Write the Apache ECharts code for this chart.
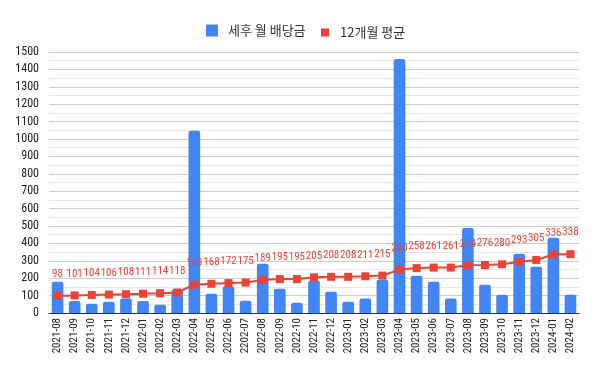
<!DOCTYPE html>
<html><head><meta charset="utf-8">
<script src="https://cdn.jsdelivr.net/npm/echarts@6/dist/echarts.min.js"></script>
<style>html,body{margin:0;padding:0;background:#fff}#c{width:600px;height:371px}</style>
</head><body><div id="c"></div>
<script>
const categories = ["2021-08","2021-09","2021-10","2021-11","2021-12","2022-01","2022-02","2022-03","2022-04","2022-05","2022-06","2202-07","2022-08","2022-09","2022-10","2022-11","2022-12","2023-01","2023-02","2023-03","2023-04","2023-05","2023-06","2023-07","2023-08","2023-09","2023-10","2023-11","2023-12","2024-01","2024-02"];
const monthlyDividend = [180,69,53,65,84,69,48,134,1047,111,153,71,283,140,59,186,122,65,84,191,1460,214,180,84,489,163,105,341,266,433,105];
const avg12 = [98,101,104,106,108,111,114,118,163,168,172,175,189,195,195,205,208,208,211,215,250,258,261,261,274,276,280,293,305,336,338];
const yTicks = {min:0, max:1500, interval:100};
const seriesNames = ["세후 월 배당금","12개월 평균"];

const cond = "'Roboto Condensed','Roboto',sans-serif";
const kr = "'Noto Sans CJK KR','Noto Sans',sans-serif";
const chart = echarts.init(document.getElementById('c'));
chart.setOption({
  animation:false,
  backgroundColor:'#fff',
  legend:[
    {data:[{name:seriesNames[0],icon:'rect'}], left:201, top:19, itemWidth:12, itemHeight:12,
     textStyle:{fontFamily:kr,fontSize:13,color:'#333',padding:[0,0,0,5]}},
    {data:[{name:seriesNames[1],icon:'rect'}], left:316, top:21, itemWidth:8, itemHeight:8,
     textStyle:{fontFamily:kr,fontSize:13,color:'#333',padding:[0,0,0,6]}}
  ],
  grid:{left:49,right:21,top:52,bottom:58},
  xAxis:{type:'category',data:categories,
    axisLine:{lineStyle:{color:'#333',width:1}},
    axisTick:{show:false},
    axisLabel:{rotate:90,interval:0,fontFamily:cond,fontSize:11,color:'#222',margin:5}},
  yAxis:{type:'value',min:yTicks.min,max:yTicks.max,interval:yTicks.interval,
    axisLine:{show:false},axisTick:{show:false},
    axisLabel:{fontFamily:cond,fontSize:12,color:'#222',margin:10,formatter:v=>String(v)},
    splitLine:{lineStyle:{color:'#cccccc',width:1}},
    minorTick:{show:false,splitNumber:2},
    minorSplitLine:{show:true,lineStyle:{color:'#e8e8e8',width:1}}},
  series:[
    {name:seriesNames[0],type:'bar',data:monthlyDividend,barWidth:'68%',
     itemStyle:{color:'#4285F4',borderRadius:[2,2,0,0]}},
    {name:seriesNames[1],type:'line',data:avg12,symbol:'rect',symbolSize:8,
     itemStyle:{color:'#EA4335'},lineStyle:{color:'#EA4335',width:2},
     label:{show:true,position:'top',distance:12,color:'#EA4335',fontFamily:cond,fontSize:11}}
  ]
});
</script></body></html>
